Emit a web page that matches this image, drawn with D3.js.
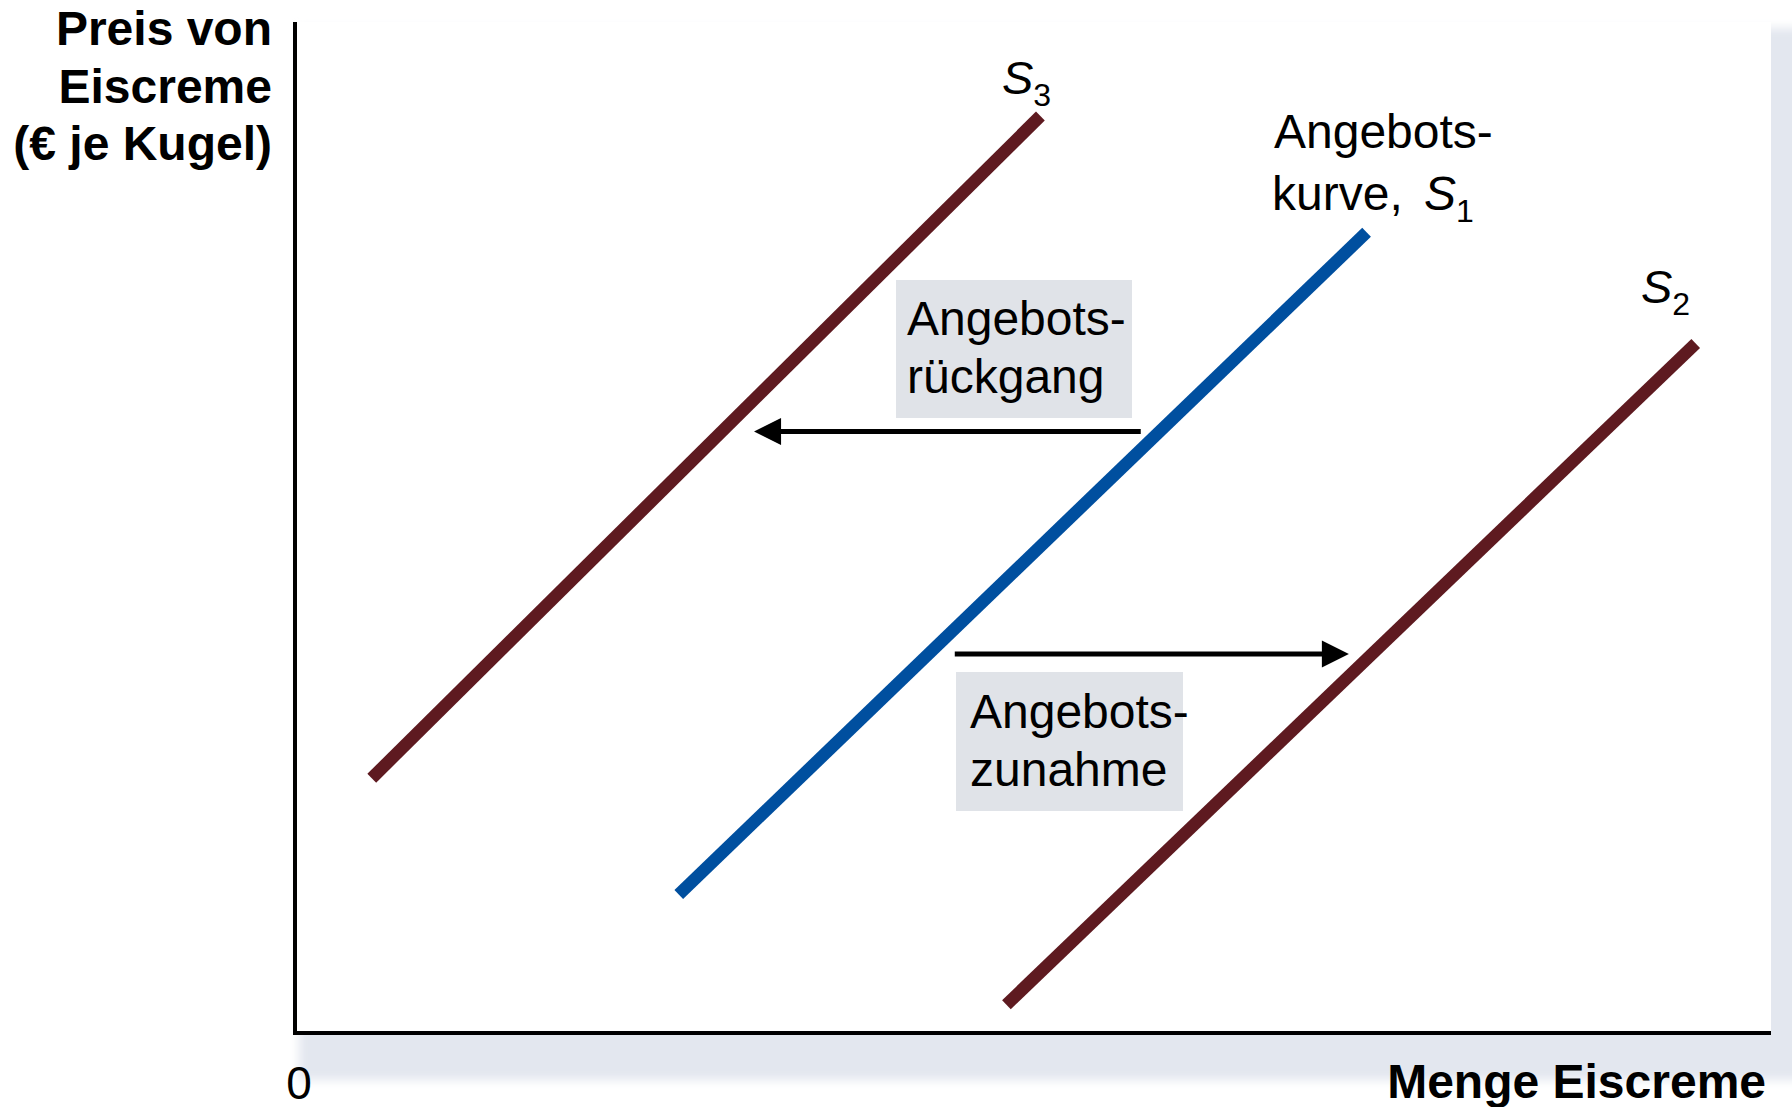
<!DOCTYPE html>
<html>
<head>
<meta charset="utf-8">
<script src="https://cdn.jsdelivr.net/npm/d3@7"></script>
<style>
  html, body { margin: 0; padding: 0; background: #ffffff; }
  svg { display: block; font-family: "Liberation Sans", Arial, Helvetica, sans-serif; }
</style>
</head>
<body>
<svg id="chart" width="1792" height="1107"></svg>
<script>
// ---- data (quantity on x, price on y, arbitrary 0-100 units) ----
const curveNames = ["S3", "S1", "S2"];
const curveStart = [[5.2, 25.2], [26.0, 13.7], [48.2, 2.8]];
const curveEnd   = [[50.5, 90.7], [72.6, 79.2], [94.9, 68.2]];
const shiftNames = ["Angebotsrückgang", "Angebotszunahme"];
const shiftFrom  = [[57.3, 59.5], [44.7, 37.5]];
const shiftTo    = [[31.1, 59.5], [71.4, 37.5]];
const yTitleLines = ["Preis von", "Eiscreme", "(€ je Kugel)"];
const xTitle = "Menge Eiscreme";
const originLabel = "0";

(function () {
const svg = d3.select("#chart");
const pL = 295, pR = 1771, pT = 22, pB = 1033;
const x = d3.scaleLinear().domain([0, 100]).range([pL, pR]);
const y = d3.scaleLinear().domain([0, 100]).range([pB, pT]);

// shadow + white plot box
const defs = svg.append("defs");
const f = defs.append("filter").attr("id", "blur").attr("x", "-5%").attr("y", "-5%").attr("width", "110%").attr("height", "110%");
f.append("feGaussianBlur").attr("stdDeviation", 5);
svg.append("rect").attr("x", pL + 4).attr("y", pT + 6).attr("width", 1600).attr("height", 1080 - pT - 6)
  .attr("fill", "#e3e7ef").attr("filter", "url(#blur)");
svg.append("rect").attr("x", pL).attr("y", pT).attr("width", pR - pL).attr("height", pB - pT)
  .attr("fill", "#ffffff");

// axes
const xAxis = svg.append("g").attr("transform", `translate(0,${pB})`)
  .call(d3.axisBottom(x).tickValues([]).tickSizeOuter(0));
const yAxis = svg.append("g").attr("transform", `translate(${pL},0)`)
  .call(d3.axisLeft(y).tickValues([]).tickSizeOuter(0));
xAxis.select(".domain").attr("stroke", "#000").attr("stroke-width", 4)
  .attr("d", `M${pL - 2},0H${pR}`);
yAxis.select(".domain").attr("stroke", "#000").attr("stroke-width", 4)
  .attr("d", `M0,${pT}V${pB + 2}`);

// curves
const curveColor = { S3: "#5e1a20", S1: "#004f9f", S2: "#5e1a20" };
curveNames.forEach((n, i) => {
  svg.append("line")
    .attr("x1", x(curveStart[i][0])).attr("y1", y(curveStart[i][1]))
    .attr("x2", x(curveEnd[i][0])).attr("y2", y(curveEnd[i][1]))
    .attr("stroke", curveColor[n]).attr("stroke-width", 12.5).attr("stroke-linecap", "butt");
});

// label boxes
const boxes = [
  { x: 896, y: 280, w: 236, h: 138, tx: 907, b1: 335, l1: "Angebots-", l2: "rückgang" },
  { x: 956, y: 672, w: 227, h: 139, tx: 970, b1: 728, l1: "Angebots-", l2: "zunahme" }
];
boxes.forEach(bx => {
  svg.append("rect").attr("x", bx.x).attr("y", bx.y).attr("width", bx.w).attr("height", bx.h).attr("fill", "#e0e3e8");
  const t = svg.append("text").attr("font-size", 48).attr("fill", "#000");
  t.append("tspan").attr("x", bx.tx).attr("y", bx.b1).text(bx.l1);
  t.append("tspan").attr("x", bx.tx).attr("y", bx.b1 + 58).text(bx.l2);
});

// shift arrows
shiftNames.forEach((n, i) => {
  const x0 = x(shiftFrom[i][0]), y0 = y(shiftFrom[i][1]);
  const x1 = x(shiftTo[i][0]), y1 = y(shiftTo[i][1]);
  const dir = Math.sign(x1 - x0);
  const hl = 27, hw = 13.5;
  svg.append("line").attr("x1", x0).attr("y1", y0).attr("x2", x1 - dir * hl + dir * 2).attr("y2", y1)
    .attr("stroke", "#000").attr("stroke-width", 5);
  svg.append("path")
    .attr("d", `M${x1},${y1}L${x1 - dir * hl},${y1 - hw}L${x1 - dir * hl},${y1 + hw}Z`)
    .attr("fill", "#000");
});

// curve labels
function sLabel(px, py, sub) {
  const t = svg.append("text").attr("x", px).attr("y", py).attr("font-size", 47).attr("fill", "#000");
  t.append("tspan").attr("font-style", "italic").text("S");
  t.append("tspan").attr("font-size", 32).attr("dy", 12).text(sub);
  return t;
}
sLabel(1002, 94, "3");
sLabel(1641, 303, "2");
const s1 = svg.append("text").attr("font-size", 48).attr("fill", "#000");
s1.append("tspan").attr("x", 1274).attr("y", 148).text("Angebots-");
s1.append("tspan").attr("x", 1272).attr("y", 210).text("kurve, ");
s1.append("tspan").attr("dx", 8).attr("font-style", "italic").text("S");
s1.append("tspan").attr("font-size", 32).attr("dy", 12).text("1");

// axis titles
const yt = svg.append("text").attr("text-anchor", "end").attr("font-weight", "bold").attr("font-size", 48).attr("fill", "#000");
yTitleLines.forEach((l, i) => {
  yt.append("tspan").attr("x", 272).attr("y", 45 + i * 57.5).text(l);
});
svg.append("text").attr("x", 1766).attr("y", 1098).attr("text-anchor", "end")
  .attr("font-weight", "bold").attr("font-size", 48).attr("fill", "#000").text(xTitle);
svg.append("text").attr("x", x(0) + 4).attr("y", 1099).attr("text-anchor", "middle")
  .attr("font-size", 46).attr("fill", "#000").text(originLabel);
})();
</script>
</body>
</html>
